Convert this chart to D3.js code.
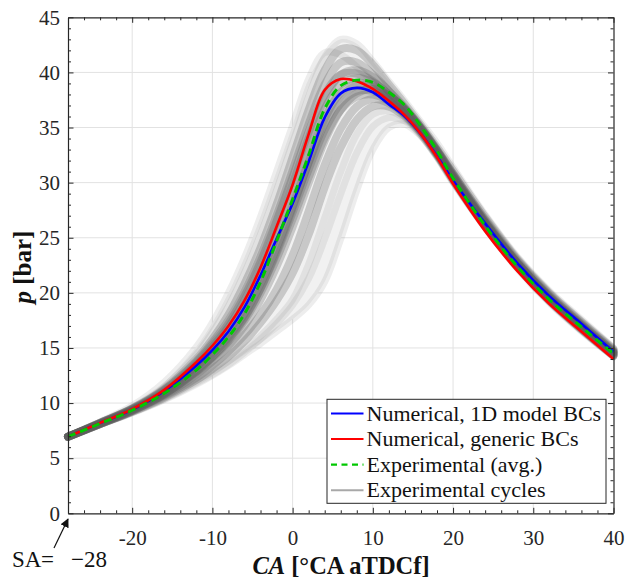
<!DOCTYPE html>
<html>
<head>
<meta charset="utf-8">
<script src="https://cdn.jsdelivr.net/npm/d3@7"></script>
<style>
  html, body { margin: 0; padding: 0; background: #fff; }
  svg { display: block; font-family: "Liberation Serif", "Times New Roman", serif; }
</style>
</head>
<body>
<svg id="chart" width="627" height="581"></svg>
<script>
// ---------- data ----------
const crankAngle = [-28,-24,-20,-16,-12,-10,-8,-6,-4,-2,0,2,4,6,8,10,12,14,16,18,20,24,28,32,36,40];

const numerical1D = [6.95,8.2,9.4,11.1,13.4,14.8,16.5,18.7,21.6,24.9,28.1,31.9,35.9,38.1,38.6,38.2,37.1,36.0,34.4,32.4,30.2,26.3,22.7,19.7,17.2,14.65];
const numericalGeneric = [6.95,8.2,9.45,11.2,13.7,15.2,17.0,19.3,22.3,26.0,29.8,34.4,38.4,39.4,39.2,38.5,37.4,36.1,34.4,32.3,29.9,25.6,22.0,19.0,16.5,14.0];
const experimentalAvg = [6.95,8.15,9.35,10.9,13.0,14.4,16.0,18.1,21.0,24.7,28.5,32.5,36.7,38.8,39.3,39.1,38.2,37.0,35.1,32.9,30.4,26.1,22.4,19.4,16.9,14.5];

// experimental cycles: outer (rare) cycles
const cycleA = [6.95,8.25,9.6,11.5,14.4,16.4,18.8,21.8,25.3,29.3,33.6,37.8,41.4,43.0,42.6,41.0,39.2,37.4,35.5,33.6,31.4,27.1,23.3,20.2,17.6,15.0];
const cycleB = [6.95,8.3,9.75,11.9,15.1,17.3,20.0,23.2,26.9,31.0,35.2,39.4,41.8,41.6,40.5,39.1,37.6,36.0,34.3,32.4,30.4,26.4,22.8,19.8,17.2,14.8];
const cycleL = [6.95,8.05,9.15,10.4,11.9,12.8,13.8,14.9,16.1,17.6,19.4,22.6,26.8,31.0,34.4,36.2,36.5,35.8,34.3,32.3,30.1,26.0,22.3,19.2,16.6,14.2];
const cycleM = [6.95,8.05,9.15,10.35,11.8,12.6,13.5,14.6,15.8,17.2,18.9,21.3,24.9,29.0,32.7,35.1,35.9,35.6,34.3,32.4,30.1,26.0,22.3,19.2,16.6,14.2];
const cycleN = [6.95,8.05,9.1,10.3,11.7,12.5,13.4,14.4,15.4,16.5,17.6,18.9,21.0,24.9,29.3,33.0,35.0,35.3,34.2,32.3,30.0,25.9,22.2,19.1,16.5,14.2];
// experimental cycles: frequent (core) cycles
const cycleC = [6.95,8.2,9.5,11.3,14.0,15.8,18.0,20.8,24.1,28.0,32.3,36.6,40.2,42.1,42.0,40.7,38.9,37.1,35.2,33.2,31.1,26.9,23.1,20.0,17.4,14.9];
const cycleD = [6.95,8.2,9.45,11.2,13.8,15.5,17.5,20.1,23.3,27.0,31.1,35.3,38.9,40.9,40.9,39.8,38.3,36.7,34.9,32.9,30.8,26.7,23.0,19.9,17.3,14.8];
const cycleE = [6.95,8.2,9.45,11.1,13.5,15.1,16.9,19.3,22.3,25.9,29.9,34.0,37.6,39.8,40.2,39.6,38.3,36.8,35.0,33.0,30.8,26.6,22.9,19.8,17.2,14.7];
const cycleF = [6.95,8.15,9.4,11.0,13.3,14.8,16.5,18.8,21.7,25.2,29.1,33.1,36.7,38.9,39.5,39.1,38.0,36.6,34.8,32.8,30.6,26.4,22.7,19.6,17.0,14.6];
const cycleG = [6.95,8.15,9.35,10.9,13.0,14.4,16.0,18.1,20.8,24.1,27.9,31.8,35.4,37.8,38.8,38.7,37.8,36.5,34.8,32.7,30.5,26.3,22.6,19.5,16.9,14.5];
const cycleH = [6.95,8.2,9.5,11.2,13.7,15.3,17.2,19.7,22.8,26.5,30.5,34.6,38.0,39.8,39.9,39.2,38.0,36.6,34.9,32.9,30.7,26.5,22.8,19.7,17.1,14.7];
const cycleI = [6.95,8.1,9.3,10.8,12.9,14.2,15.8,17.8,20.4,23.6,27.3,31.2,34.8,37.2,38.3,38.3,37.6,36.3,34.7,32.6,30.4,26.2,22.5,19.4,16.8,14.4];
const cycleJ = [6.95,8.1,9.3,10.8,12.8,14.1,15.6,17.5,20.0,23.1,26.7,30.5,34.1,36.6,37.8,38.0,37.4,36.2,34.6,32.6,30.4,26.2,22.5,19.4,16.8,14.4];
const cycleK = [6.95,8.1,9.25,10.6,12.3,13.4,14.7,16.2,18.0,20.3,23.4,27.4,31.6,34.9,36.9,37.6,37.2,36.2,34.6,32.6,30.3,26.1,22.4,19.3,16.7,14.3];
const cycleO = [6.95,8.1,9.2,10.5,12.1,13.1,14.2,15.6,17.3,19.3,21.8,25.3,29.6,33.2,35.7,36.9,36.9,36.0,34.5,32.5,30.2,26.0,22.4,19.3,16.7,14.3];
const cycleP = [6.95,8.15,9.35,10.85,12.9,14.2,15.7,17.7,20.4,23.8,27.7,31.9,35.8,38.2,39.0,38.8,37.9,36.6,34.9,32.8,30.6,26.4,22.7,19.6,17.0,14.6];
const cycleQ = [6.95,8.1,9.3,10.7,12.6,13.8,15.2,17.0,19.4,22.4,26.0,30.0,33.8,36.6,38.1,38.5,37.9,36.7,35.0,32.9,30.6,26.4,22.7,19.6,17.0,14.55];

const outerCycles = [cycleA,cycleB,cycleL,cycleM,cycleN];
const coreCycles = [cycleC,cycleD,cycleE,cycleF,cycleG,cycleH,cycleI,cycleJ,cycleK,cycleO,cycleP,cycleQ];

const xTickValues = [-20,-10,0,10,20,30,40];
const xTickLabels = ["-20","-10","0","10","20","30","40"];
const yTickValues = [0,5,10,15,20,25,30,35,40,45];
const yTickLabels = ["0","5","10","15","20","25","30","35","40","45"];

const legendLabels = ["Numerical, 1D model BCs","Numerical, generic BCs","Experimental (avg.)","Experimental cycles"];

// ---------- layout ----------
const svg = d3.select("#chart");
const L = 68, R = 613.5, T = 17.3, B = 513.3;
const x = d3.scaleLinear().domain([-28, 40]).range([L, R]);
const y = d3.scaleLinear().domain([0, 45]).range([B, T]);
const axisColor = "#262626";

// grid
const grid = svg.append("g");
grid.selectAll("line.gx").data(xTickValues.filter(v => v > -28 && v < 40)).enter().append("line")
  .attr("x1", d => x(d)).attr("x2", d => x(d)).attr("y1", T).attr("y2", B)
  .attr("stroke", "#e2e2e2").attr("stroke-width", 1);
grid.selectAll("line.gy").data(yTickValues.filter(v => v > 0 && v < 45)).enter().append("line")
  .attr("x1", L).attr("x2", R).attr("y1", d => y(d)).attr("y2", d => y(d))
  .attr("stroke", "#e2e2e2").attr("stroke-width", 1);

// lines
const curve = d3.curveCatmullRom.alpha(0.5);
const line = d3.line()
  .x((d, i) => x(crankAngle[i]))
  .y(d => y(d))
  .curve(curve);

const allCycles = outerCycles.concat(coreCycles);
const envLow = crankAngle.map((c, i) => d3.min(allCycles, cy => cy[i]));
const envHigh = crankAngle.map((c, i) => d3.max(allCycles, cy => cy[i]));
const area = d3.area()
  .x((d, i) => x(crankAngle[i]))
  .y0((d, i) => y(envLow[i]))
  .y1(d => y(d))
  .curve(curve);
svg.append("path").attr("d", area(envHigh)).attr("fill", "#f1f1f1");

const cyc = svg.append("g");
outerCycles.forEach(c => {
  cyc.append("path").attr("d", line(c))
    .attr("fill", "none").attr("stroke", "#8c8c8c")
    .attr("stroke-opacity", 0.16).attr("stroke-width", 7)
    .attr("stroke-linecap", "round").attr("stroke-linejoin", "round");
});
coreCycles.forEach(c => {
  cyc.append("path").attr("d", line(c))
    .attr("fill", "none").attr("stroke", "#5e5e5e")
    .attr("stroke-opacity", 0.28).attr("stroke-width", 8)
    .attr("stroke-linecap", "round").attr("stroke-linejoin", "round");
});

svg.append("path").attr("d", line(numerical1D))
  .attr("fill", "none").attr("stroke", "#0000ff").attr("stroke-width", 2.6);
svg.append("path").attr("d", line(numericalGeneric))
  .attr("fill", "none").attr("stroke", "#ff0000").attr("stroke-width", 2.6);
svg.append("path").attr("d", line(experimentalAvg))
  .attr("fill", "none").attr("stroke", "#00c800").attr("stroke-width", 3)
  .attr("stroke-dasharray", "8,5");

// axes
function styleAxis(g) {
  g.selectAll("path.domain").attr("stroke", axisColor).attr("stroke-width", 1.2);
  g.selectAll(".tick line").attr("stroke", axisColor).attr("stroke-width", 1);
  g.selectAll("text").attr("fill", "#262626").attr("font-size", 21)
    .attr("font-family", "'Liberation Serif', 'Times New Roman', serif");
}
const minorX = d3.range(-26, 40, 2).filter(v => !xTickValues.includes(v));
const minorY = d3.range(1, 45, 1).filter(v => v % 5 !== 0);

[["bottom", B], ["top", T]].forEach(([side, pos]) => {
  const ax = (side === "bottom" ? d3.axisBottom(x) : d3.axisTop(x))
    .tickValues(minorX).tickSize(-3).tickSizeOuter(0).tickFormat("");
  const g = svg.append("g").attr("transform", `translate(0,${pos})`).call(ax);
  g.select("path.domain").remove();
  styleAxis(g);
});
[["left", L], ["right", R]].forEach(([side, pos]) => {
  const ax = (side === "left" ? d3.axisLeft(y) : d3.axisRight(y))
    .tickValues(minorY).tickSize(-3).tickSizeOuter(0).tickFormat("");
  const g = svg.append("g").attr("transform", `translate(${pos},0)`).call(ax);
  g.select("path.domain").remove();
  styleAxis(g);
});

const gxB = svg.append("g").attr("transform", `translate(0,${B})`)
  .call(d3.axisBottom(x).tickValues(xTickValues).tickSize(-5.5).tickSizeOuter(0).tickPadding(17)
    .tickFormat((d, i) => xTickLabels[i]));
styleAxis(gxB);
const gxT = svg.append("g").attr("transform", `translate(0,${T})`)
  .call(d3.axisTop(x).tickValues(xTickValues).tickSize(-5.5).tickSizeOuter(0).tickFormat(""));
styleAxis(gxT);
const gyL = svg.append("g").attr("transform", `translate(${L},0)`)
  .call(d3.axisLeft(y).tickValues(yTickValues).tickSize(-5.5).tickSizeOuter(0).tickPadding(8)
    .tickFormat((d, i) => yTickLabels[i]));
styleAxis(gyL);
const gyR = svg.append("g").attr("transform", `translate(${R},0)`)
  .call(d3.axisRight(y).tickValues(yTickValues).tickSize(-5.5).tickSizeOuter(0).tickFormat(""));
styleAxis(gyR);

// axis titles
const xt = svg.append("text").attr("x", 341).attr("y", 574)
  .attr("text-anchor", "middle").attr("font-size", 24.5).attr("font-weight", "bold").attr("fill", "#111");
xt.append("tspan").attr("font-style", "italic").text("CA");
xt.append("tspan").text(" [°CA aTDCf]");

const yt = svg.append("text")
  .attr("transform", `translate(31,267) rotate(-90)`)
  .attr("text-anchor", "middle").attr("font-size", 25).attr("font-weight", "bold").attr("fill", "#111");
yt.append("tspan").attr("font-style", "italic").text("p");
yt.append("tspan").text(" [bar]");

// SA annotation
svg.append("defs").append("marker").attr("id", "arr")
  .attr("viewBox", "0 0 10 10").attr("refX", 9).attr("refY", 5)
  .attr("markerWidth", 9).attr("markerHeight", 9).attr("markerUnits", "userSpaceOnUse")
  .attr("orient", "auto")
  .append("path").attr("d", "M0,0 L10,5 L0,10 Z").attr("fill", "#111");
svg.append("line").attr("x1", 54).attr("y1", 548).attr("x2", x(-28)).attr("y2", 519)
  .attr("stroke", "#111").attr("stroke-width", 1.2).attr("marker-end", "url(#arr)");
const sa = svg.append("g").attr("font-size", 23).attr("fill", "#111");
sa.append("text").attr("x", 12).attr("y", 567).text("SA");
sa.append("text").attr("x", 41).attr("y", 567).text("=");
sa.append("text").attr("x", 71).attr("y", 567).text("\u221228");

// legend
const lg = svg.append("g");
const lgX = 327, lgY = 399.3, lgW = 279, lgH = 104;
lg.append("rect").attr("x", lgX).attr("y", lgY).attr("width", lgW).attr("height", lgH)
  .attr("fill", "#fff").attr("stroke", axisColor).attr("stroke-width", 1);
const legendStyles = [
  {c: "#0000ff", w: 2, dash: null},
  {c: "#ff0000", w: 2, dash: null},
  {c: "#00c800", w: 2.2, dash: "6,4.5"},
  {c: "#a8a8a8", w: 2, dash: null}
];
legendLabels.forEach((lab, i) => {
  const yy = 413.5 + i * 25.6;
  const ln = lg.append("line").attr("x1", 331).attr("x2", 363.5).attr("y1", yy).attr("y2", yy)
    .attr("stroke", legendStyles[i].c).attr("stroke-width", legendStyles[i].w);
  if (legendStyles[i].dash) ln.attr("stroke-dasharray", legendStyles[i].dash);
  lg.append("text").attr("x", 366.5).attr("y", yy + 7).attr("font-size", 22).attr("fill", "#111")
    .text(lab);
});
</script>
</body>
</html>
